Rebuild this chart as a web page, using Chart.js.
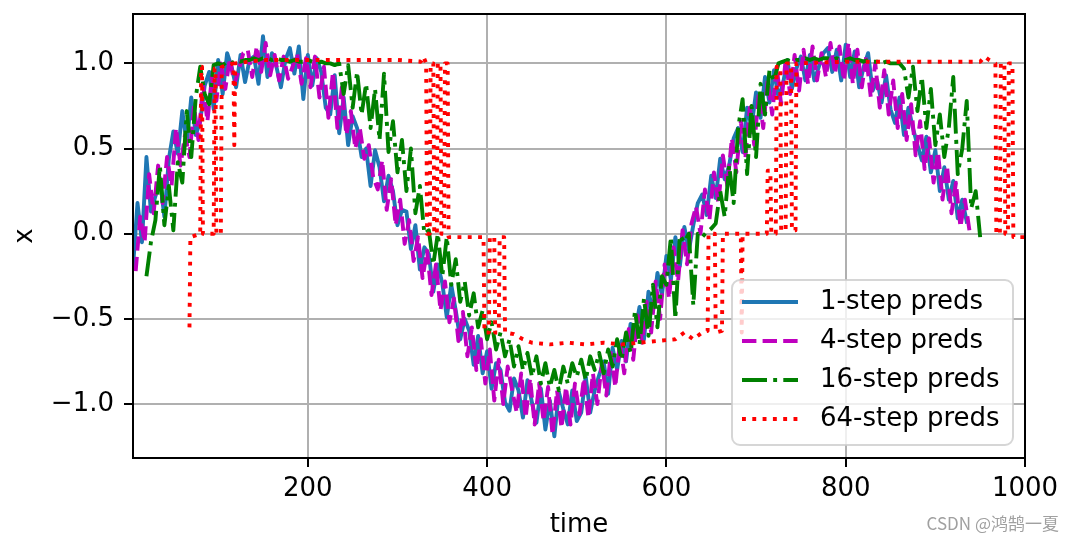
<!DOCTYPE html>
<html>
<head>
<meta charset="utf-8">
<script src="https://cdn.jsdelivr.net/npm/chart.js@4/dist/chart.umd.min.js"></script>
<style>
  body { margin: 0; background: #fff; }
  #wrap { position: relative; width: 1074px; height: 541px; }
  #mark { position: absolute; right: 15px; top: 510px; font: 17px "Noto Sans CJK SC", sans-serif; color: #a0a0a0; }
</style>
</head>
<body>
<div id="wrap">
  <canvas id="chart" width="1074" height="541"></canvas>
  <div id="mark">CSDN @鸿鹄一夏</div>
</div>
<script>
// k-step predictions (one value every 5 time steps)
const start1 = 5, start4 = 8, start16 = 20, step = 5;

const preds1 = [
  -0.20, 0.18, -0.05, 0.45, 0.13, 0.22, 0.32, 0.10, 0.44, 0.60,
  0.47, 0.72, 0.53, 0.80, 0.58, 0.66, 0.87, 0.95, 0.73, 1.02,
  0.82, 1.06, 0.98, 0.86, 1.05, 0.89, 1.02, 1.04, 0.88, 1.16,
  0.92, 1.06, 0.98, 0.86, 1.02, 1.09, 0.94, 1.10, 0.79, 1.05,
  0.87, 1.03, 0.95, 0.74, 0.70, 0.93, 0.59, 0.80, 0.52, 0.69,
  0.62, 0.45, 0.50, 0.28, 0.49, 0.39, 0.19, 0.34, 0.25, 0.05,
  0.14, 0.13, -0.09, 0.05, -0.21, -0.08, -0.12, -0.34, -0.18, -0.29,
  -0.49, -0.30, -0.45, -0.62, -0.50, -0.57, -0.77, -0.60, -0.82, -0.69,
  -0.91, -0.76, -0.80, -0.99, -1.04, -0.85, -0.92, -1.08, -0.86, -0.99,
  -1.11, -0.91, -1.15, -0.98, -1.19, -0.93, -1.03, -1.12, -0.92, -1.10,
  -1.05, -0.84, -1.05, -0.92, -0.83, -0.75, -0.94, -0.67, -0.80, -0.63,
  -0.75, -0.53, -0.58, -0.43, -0.62, -0.34, -0.46, -0.23, -0.36, -0.13,
  -0.27, -0.02, -0.19, 0.04, -0.10, 0.05, 0.18, 0.23, 0.11, 0.34,
  0.21, 0.44, 0.32, 0.40, 0.56, 0.62, 0.48, 0.74, 0.63, 0.83,
  0.68, 0.92, 0.77, 0.96, 0.80, 0.88, 1.02, 0.85, 0.97, 1.04,
  0.90, 1.05, 0.90, 0.98, 1.06, 1.09, 0.95, 1.08, 0.90, 1.11,
  0.92, 1.07, 0.86, 0.98, 1.06, 0.84, 0.90, 0.77, 0.93, 0.73,
  0.65, 0.80, 0.58, 0.74, 0.62, 0.52, 0.43, 0.57, 0.36, 0.49,
  0.25, 0.39, 0.20, 0.31, 0.09, 0.20, 0.07
];

const preds4 = [
  -0.22, 0.10, -0.05, 0.35, 0.12, 0.40, 0.18, 0.45, 0.28, 0.62,
  0.40, 0.58, 0.45, 0.75, 0.55, 0.88, 0.66, 0.92, 0.78, 1.00,
  0.85, 1.03, 0.88, 0.96, 1.06, 1.08, 0.92, 1.10, 0.95, 1.12,
  0.93, 1.05, 0.90, 1.04, 0.91, 0.98, 1.06, 0.88, 1.03, 0.86,
  1.04, 0.80, 0.98, 0.68, 0.95, 0.62, 0.86, 0.58, 0.72, 0.50,
  0.62, 0.44, 0.52, 0.33, 0.26, 0.43, 0.14, 0.32, 0.05, 0.20,
  -0.06, 0.08, -0.16, -0.02, -0.26, -0.10, -0.36, -0.18, -0.45, -0.28,
  -0.52, -0.38, -0.63, -0.46, -0.72, -0.55, -0.80, -0.62, -0.88, -0.68,
  -0.98, -0.74, -1.00, -0.78, -0.92, -1.05, -0.82, -1.08, -0.85, -1.12,
  -0.88, -1.10, -0.90, -1.18, -0.92, -1.14, -0.90, -1.12, -0.88, -1.06,
  -0.85, -1.08, -0.82, -1.00, -0.76, -0.95, -0.70, -0.90, -0.64, -0.82,
  -0.56, -0.74, -0.48, -0.64, -0.40, -0.58, -0.28, -0.50, -0.18, -0.38,
  -0.08, -0.28, 0.02, -0.18, 0.06, 0.16, 0.00, 0.26, 0.08, 0.36,
  0.18, 0.46, 0.28, 0.56, 0.36, 0.66, 0.44, 0.74, 0.52, 0.82,
  0.62, 0.90, 0.70, 0.98, 0.76, 1.02, 0.82, 1.05, 0.84, 1.08,
  0.88, 1.10, 0.90, 1.06, 0.92, 1.12, 0.94, 1.10, 0.90, 1.12,
  0.88, 1.08, 0.86, 1.04, 0.80, 1.00, 0.74, 0.96, 0.70, 0.90,
  0.62, 0.82, 0.55, 0.76, 0.46, 0.66, 0.38, 0.56, 0.30, 0.48,
  0.20, 0.40, 0.12, 0.30, 0.04, 0.20, 0.02
];

const preds16 = [
  -0.25, -0.05, 0.08, 0.40, 0.05, 0.28, 0.02, 0.42, 0.30, 0.72,
  0.45, 0.80, 0.98, 0.82, 0.76, 0.99, 1.00, 0.99, 1.01, 1.00,
  1.02, 1.01, 1.02, 1.02, 1.03, 1.02, 1.03, 1.03, 1.02, 1.03,
  1.02, 1.02, 1.01, 1.02, 1.01, 1.01, 1.02, 1.01, 1.00, 1.01,
  1.00, 1.00, 0.99, 1.00, 0.82, 0.99, 0.74, 0.95, 0.70, 0.88,
  0.62, 0.85, 0.55, 0.94, 0.48, 0.66, 0.36, 0.55, 0.25, 0.50,
  0.12, 0.28, 0.00, 0.02, -0.18, 0.00, -0.25, -0.02, -0.30, -0.15,
  -0.40, -0.28, -0.48, -0.35, -0.55, -0.45, -0.62, -0.52, -0.68, -0.58,
  -0.72, -0.62, -0.78, -0.66, -0.80, -0.70, -0.84, -0.72, -0.88, -0.76,
  -0.90, -0.80, -0.92, -0.78, -0.88, -0.76, -0.84, -0.74, -0.86, -0.72,
  -0.80, -0.70, -0.82, -0.68, -0.78, -0.62, -0.74, -0.58, -0.70, -0.45,
  -0.65, -0.38, -0.60, -0.30, -0.55, -0.25, -0.30, -0.02, -0.50, -0.01,
  -0.05, 0.00, -0.42, 0.00, -0.02, 0.01, 0.03, 0.06, 0.25, 0.10,
  0.40, 0.18, 0.62, 0.79, 0.35, 0.75, 0.45, 0.88, 0.70, 0.96,
  0.90, 1.00, 1.01, 1.02, 1.01, 1.02, 1.02, 1.03, 1.02, 1.03,
  1.02, 1.03, 1.03, 1.02, 1.03, 1.02, 1.02, 1.03, 1.02, 1.02,
  1.01, 1.02, 1.01, 1.01, 1.00, 1.01, 1.00, 1.00, 1.00, 0.97,
  0.80, 0.98, 0.72, 0.92, 0.62, 0.85, 0.52, 0.70, 0.45, 0.62,
  0.92, 0.35, 0.50, 0.78, 0.15, 0.25, -0.02
];

// 64-step preds jump between levels, so keep their own time stamps
const time64 = [
  68, 69, 80, 81, 82, 83, 95, 96, 97, 98, 103, 104, 117, 118, 119, 150, 200, 250, 300, 326, 329, 332,
  333, 336, 337, 340, 341, 344, 345, 348, 349, 352, 353, 356, 357, 396,
  397, 402, 403, 408, 409, 413, 414, 419, 420, 430, 440, 450, 470, 490, 510, 530, 550, 570, 590, 610, 620, 630, 640, 646,
  647, 654, 655, 662, 663, 683, 684, 685, 712,
  713, 716, 717, 722, 723, 727, 728, 733, 734, 739, 740, 744, 745, 800, 900, 950, 955, 960, 967,
  968, 972, 973, 977, 978, 981, 982, 986, 987, 1000
];
const preds64 = [
  -0.55, -0.02, 0.00, 0.98, 0.98, 0.00, 0.00, 0.97, 0.97, 0.00, 0.00, 0.98, 1.00, 0.52, 1.00, 1.02, 1.02, 1.02, 1.02, 1.01, 1.04, 1.00,
  0.00, 0.00, 1.00, 1.00, 0.00, 0.00, 1.00, 1.00, 0.00, 0.00, 1.00, 1.00, -0.02, -0.02,
  -0.58, -0.58, -0.02, -0.02, -0.58, -0.58, -0.02, -0.02, -0.58, -0.59, -0.62, -0.64, -0.65, -0.64, -0.65, -0.64, -0.65, -0.64, -0.63, -0.62, -0.58, -0.62, -0.58, -0.57,
  0.00, 0.00, -0.58, -0.57, 0.00, 0.00, -0.58, 0.00, 0.00,
  0.37, 0.37, 0.00, 0.00, 0.98, 0.98, 0.02, 0.02, 1.00, 1.00, 0.02, 0.02, 1.00, 1.01, 1.01, 1.01, 1.04, 1.02, 1.00,
  0.00, 0.00, 1.00, 1.00, 0.00, 0.00, 1.00, 1.00, -0.02, -0.02
];

const labels = ['1-step preds', '4-step preds', '16-step preds', '64-step preds'];
const colors = ['#1f77b4', '#bf00bf', '#008000', '#ff0000'];
const xTicks = [200, 400, 600, 800, 1000];
const yTicks = [-1, -0.5, 0, 0.5, 1];

const FONT = 'DejaVu Sans';
const LW = 3.9;
const dashes = [[], [14.4, 6.2], [25, 6.2, 3.9, 6.2], [3.9, 6.4]];

function series(values, t0) {
  return values.map((v, i) => ({ x: t0 + step * i, y: v }));
}

const points = [
  series(preds1, start1),
  series(preds4, start4),
  series(preds16, start16),
  time64.map((t, i) => ({ x: t, y: preds64[i] }))
];

const datasets = points.map((data, i) => ({
  label: labels[i],
  data: data,
  borderColor: colors[i],
  borderWidth: LW,
  borderDash: dashes[i],
  borderCapStyle: i === 0 ? 'square' : 'butt',
  borderJoinStyle: 'round',
  pointRadius: 0,
  fill: false,
  tension: 0,
  order: 4 - i  // later series on top, like matplotlib
}));

// top/right spines
const frame = {
  id: 'frame',
  afterDatasetsDraw(chart) {
    const { ctx, chartArea: a } = chart;
    ctx.save();
    ctx.strokeStyle = '#000';
    ctx.lineWidth = 2;
    ctx.strokeRect(a.left, a.top, a.right - a.left, a.bottom - a.top);
    ctx.restore();
  }
};

// matplotlib style legend in the lower right corner
const legendBox = {
  id: 'legendBox',
  afterDraw(chart) {
    const { ctx, chartArea: a } = chart;
    const w = 281, h = 165, r = 8;
    const x0 = a.right - 12 - w, y0 = a.bottom - 13 - h;
    ctx.save();
    ctx.beginPath();
    ctx.roundRect(x0, y0, w, h, r);
    ctx.fillStyle = 'rgba(255,255,255,0.8)';
    ctx.fill();
    ctx.strokeStyle = 'rgba(204,204,204,0.8)';
    ctx.lineWidth = 2;
    ctx.stroke();
    ctx.font = '26px "' + FONT + '"';
    ctx.textBaseline = 'middle';
    chart.data.datasets.forEach((ds, i) => {
      const y = y0 + 22 + i * 39;
      ctx.strokeStyle = ds.borderColor;
      ctx.lineWidth = ds.borderWidth;
      ctx.lineCap = 'butt';
      ctx.setLineDash(ds.borderDash);
      ctx.beginPath();
      ctx.moveTo(x0 + 10, y);
      ctx.lineTo(x0 + 66, y);
      ctx.stroke();
      ctx.setLineDash([]);
      ctx.fillStyle = '#000';
      ctx.fillText(ds.label, x0 + 88, y);
    });
    ctx.restore();
  }
};

Chart.defaults.font.family = FONT;
Chart.defaults.color = '#000';

const gridOpts = { color: '#b0b0b0', lineWidth: 2, tickColor: '#000', tickLength: 9, tickWidth: 2 };

function noPad(s) {
  s.paddingTop = 0; s.paddingBottom = 0; s.paddingLeft = 0; s.paddingRight = 0;
}

new Chart(document.getElementById('chart'), {
  type: 'line',
  data: { datasets: datasets },
  options: {
    responsive: false,
    animation: false,
    devicePixelRatio: 1,
    layout: { padding: { left: 0, top: 14, right: 49, bottom: 0 } },
    plugins: { legend: { display: false }, tooltip: { enabled: false } },
    scales: {
      x: {
        type: 'linear',
        min: 5,
        max: 1000,
        afterBuildTicks: s => { s.ticks = xTicks.map(v => ({ value: v })); },
        afterFit: s => { s.height = 83; noPad(s); },
        ticks: { maxRotation: 0, padding: 7, font: { size: 26 }, callback: v => String(v) },
        grid: gridOpts,
        border: { color: '#000', width: 2 },
        title: { display: true, text: 'time', font: { size: 26 }, padding: { top: 0, bottom: 0 } }
      },
      y: {
        type: 'linear',
        min: -1.317,
        max: 1.29,
        afterBuildTicks: s => { s.ticks = yTicks.map(v => ({ value: v })); },
        afterFit: s => { s.width = 133; noPad(s); },
        ticks: {
          padding: 10,
          font: { size: 26 },
          callback: v => (v < 0 ? '\u2212' : '') + Math.abs(v).toFixed(1)
        },
        grid: gridOpts,
        border: { color: '#000', width: 2 },
        title: { display: true, text: 'x', font: { size: 26 }, padding: { top: 10, bottom: 0 } }
      }
    }
  },
  plugins: [frame, legendBox]
});
</script>
</body>
</html>
